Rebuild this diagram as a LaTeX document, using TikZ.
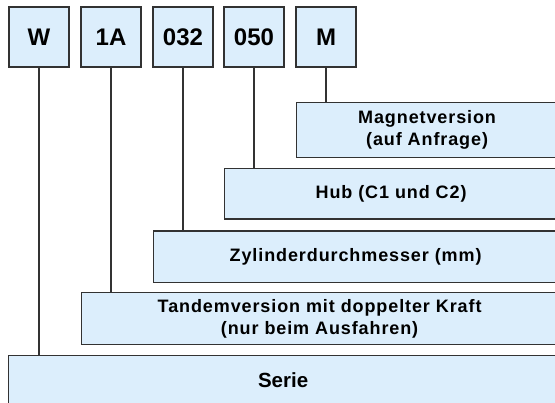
\documentclass[tikz,border=0pt]{standalone}
\usepackage{fontspec}
\setmainfont{Liberation Sans}
\definecolor{boxfill}{RGB}{220,238,252}
\definecolor{boxline}{RGB}{50,50,50}
\begin{document}
\begin{tikzpicture}[x=1pt,y=-1pt,
  codebox/.style={draw=boxline,line width=1.2pt,fill=boxfill,minimum width=60pt,minimum height=60pt,inner sep=0pt,
    font=\fontsize{24}{28}\selectfont\bfseries},
  descbox/.style={draw=boxline,line width=1.2pt,fill=boxfill,inner sep=0pt,anchor=north west,align=center,
    font=\fontsize{18}{22.5}\selectfont\bfseries\addfontfeatures{LetterSpace=5}},
  conn/.style={draw=boxline,line width=1.2pt}]
\useasboundingbox (0,0) rectangle (555,403);
\clip (0,0) rectangle (555,403);
\node[codebox] (W) at (39,37) {W};
\node[codebox] (A) at (111,37) {1A};
\node[codebox] (D) at (183,37) {032};
\node[codebox] (H) at (254,37) {050};
\node[codebox] (M) at (326,37) {M};
\node[descbox,minimum width=261pt,minimum height=55pt] (mag) at (296,102) {Magnetversion\\(auf Anfrage)};
\node[descbox,minimum width=333pt,minimum height=50.5pt] (hub) at (224,168) {Hub (C1 und C2)};
\node[descbox,minimum width=404pt,minimum height=51.5pt] (zyl) at (153,230.5) {Zylinderdurchmesser (mm)};
\node[descbox,minimum width=476pt,minimum height=52pt] (tan) at (81,292) {Tandemversion mit doppelter Kraft\\(nur beim Ausfahren)};
\node[descbox,minimum width=549pt,minimum height=55pt,font=\fontsize{20.5}{24}\selectfont\bfseries] (ser) at (8,355) {\raisebox{6pt}{Serie}};
\draw[conn] (M.south) -- (M.south |- mag.north);
\draw[conn] (H.south) -- (H.south |- hub.north);
\draw[conn] (D.south) -- (D.south |- zyl.north);
\draw[conn] (A.south) -- (A.south |- tan.north);
\draw[conn] (W.south) -- (W.south |- ser.north);
\end{tikzpicture}
\end{document}
